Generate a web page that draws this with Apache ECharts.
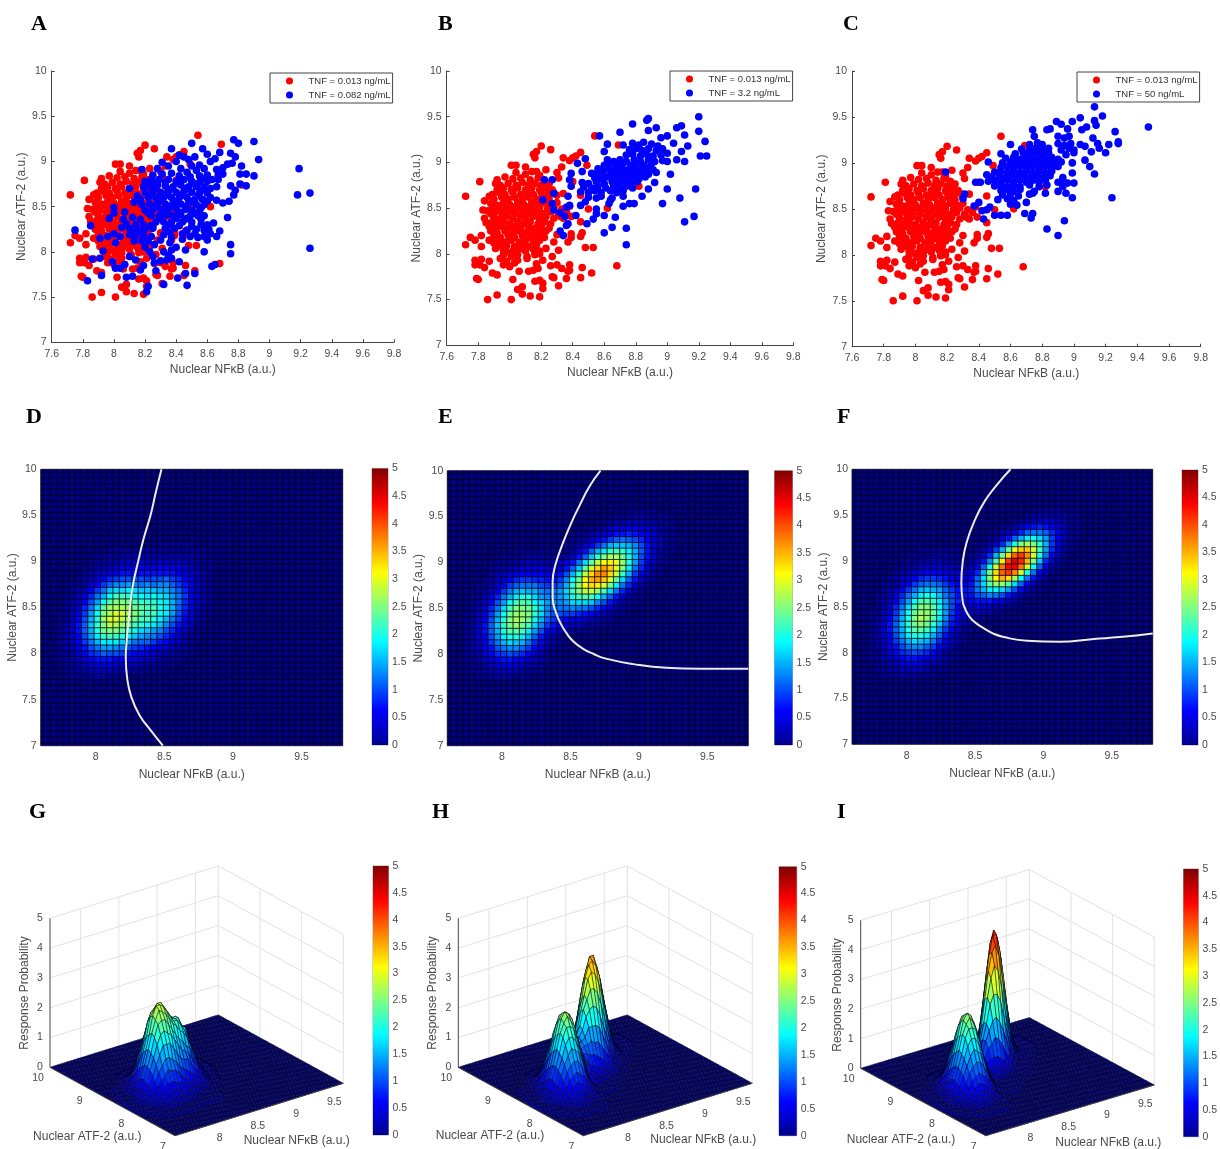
<!DOCTYPE html>
<html><head><meta charset="utf-8"><style>html,body{margin:0;background:#fff}#c{width:1220px;height:1149px}#c canvas{filter:blur(.5px)}</style>
<script src="https://cdn.jsdelivr.net/npm/echarts@6/dist/echarts.min.js"></script></head><body><div id="c"></div>
<script>
const RED_NAME='TNF = 0.013 ng/mL';
const BLUE_NAMES=['TNF = 0.082 ng/mL','TNF = 3.2 ng/mL','TNF = 50 ng/mL'];
const nfkbTicks=[8,8.5,9,9.5];
const atfTicks3D=[7,8,9,10];
const probTicks=[0,1,2,3,4,5];
const redPoints=[[7.72,8.63],[7.72,8.10],[7.75,8.18],[7.78,8.15],[7.82,8.20],[7.82,8.08],[7.78,7.93],[7.82,7.94],[7.78,7.88],[7.81,7.88],[7.84,7.85],[7.79,7.73],[7.80,7.72],[7.89,7.79],[7.92,7.77],[7.86,7.50],[7.92,7.55],[8.01,7.50],[8.05,7.61],[8.08,7.64],[8.08,7.56],[8.13,7.54],[8.19,7.53],[8.21,7.62],[8.02,7.72],[8.16,7.70],[8.19,7.71],[8.21,7.68],[8.27,7.75],[8.28,7.74],[8.31,7.65],[8.36,7.73],[8.45,7.74],[8.52,7.79],[8.46,7.85],[8.38,7.88],[8.38,7.82],[8.33,7.84],[8.26,7.87],[8.30,7.88],[8.37,7.81],[8.27,7.97],[8.31,8.04],[8.23,8.06],[8.68,7.87],[8.48,8.07],[8.53,8.07],[8.46,8.23],[8.45,8.19],[8.39,8.22],[8.37,8.13],[8.39,8.18],[8.45,8.35],[8.30,8.21],[8.28,8.13],[7.87,7.92],[7.94,7.95],[7.98,7.92],[8.0,7.86],[7.96,7.88],[8.05,7.93],[8.11,7.95],[8.06,7.81],[8.12,7.81],[8.15,7.82],[8.18,7.84],[8.17,7.89],[8.21,7.93],[8.16,8.02],[8.19,8.0],[7.98,8.02],[8.03,7.90],[7.81,8.79],[7.92,8.81],[7.91,8.77],[7.97,8.84],[8.01,8.97],[8.04,8.97],[8.10,8.95],[8.16,9.05],[8.15,9.09],[8.17,9.12],[8.20,9.18],[8.26,9.14],[8.17,8.90],[8.23,8.92],[8.30,8.89],[8.34,9.05],[8.38,9.02],[8.40,9.05],[8.42,9.07],[8.45,9.11],[8.33,8.95],[8.31,8.83],[8.49,8.97],[8.54,9.29],[8.69,9.19],[8.82,8.74],[8.50,8.49],[8.62,8.50],[8.34,8.66],[8.30,8.64],[8.45,8.64],[8.40,8.79],[8.38,8.52],[8.39,8.41],[8.34,8.39],[7.84,8.58],[7.87,8.63],[7.83,8.48],[7.86,8.47],[7.84,8.39],[7.85,8.34],[7.87,8.30],[7.88,8.25],[7.90,8.20],[7.87,8.15],[7.90,8.12],[7.91,8.06],[7.94,8.09],[7.96,8.04],
[8.04,8.89],[8.10,8.87],[8.14,8.90],[8.19,8.86],[8.02,8.82],[8.07,8.83],[8.13,8.81],[8.18,8.83],[8.22,8.80],[7.94,8.75],[7.99,8.77],[8.04,8.75],[8.08,8.78],[8.12,8.75],[8.16,8.77],[8.20,8.75],[8.25,8.77],[7.92,8.70],[7.96,8.72],[8.01,8.70],[8.05,8.72],[8.10,8.70],[8.14,8.72],[8.19,8.70],[8.23,8.72],[8.27,8.70],[7.89,8.65],[7.93,8.67],[7.97,8.65],[8.02,8.67],[8.07,8.65],[8.11,8.67],[8.15,8.65],[8.20,8.67],[8.24,8.65],[8.28,8.67],[7.90,8.60],[7.95,8.62],[7.99,8.60],[8.03,8.62],[8.08,8.60],[8.12,8.62],[8.17,8.60],[8.21,8.62],[8.25,8.60],[7.88,8.55],[7.92,8.53],[7.96,8.56],[8.0,8.54],[8.05,8.56],[8.09,8.54],[8.14,8.56],[8.18,8.54],[8.22,8.56],[8.26,8.54],[8.30,8.56],[7.89,8.50],[7.93,8.51],[7.97,8.49],[8.02,8.51],[8.06,8.49],[8.11,8.51],[8.15,8.49],[8.19,8.51],[8.24,8.49],[8.28,8.51],[8.33,8.49],[7.88,8.44],[7.91,8.46],[7.95,8.44],[7.99,8.46],[8.03,8.44],[8.08,8.46],[8.12,8.44],[8.17,8.46],[8.21,8.44],[8.26,8.46],[8.31,8.44],[8.36,8.46],[7.90,8.40],[7.94,8.38],[7.98,8.41],[8.02,8.39],[8.07,8.41],[8.10,8.39],[8.15,8.41],[8.19,8.39],[8.23,8.41],[8.28,8.39],[8.32,8.41],[7.89,8.35],[7.92,8.33],[7.96,8.35],[8.0,8.33],[8.05,8.35],[8.09,8.33],[8.13,8.35],[8.18,8.33],[8.22,8.35],[8.26,8.33],[7.91,8.28],[7.95,8.30],[7.99,8.28],[8.03,8.30],[8.07,8.28],[8.12,8.30],[8.16,8.28],[8.2,8.30],[8.25,8.28],[7.92,8.23],[7.97,8.25],[8.02,8.23],[8.06,8.25],[8.10,8.23],[8.14,8.25],[8.19,8.23],[8.23,8.25],[7.94,8.18],[7.99,8.20],[8.03,8.18],[8.08,8.20],[8.13,8.18],[8.17,8.20],[8.22,8.18],[7.93,8.14],[7.97,8.13],[8.01,8.15],[8.06,8.13],[8.10,8.15],[8.15,8.13],[8.19,8.15],[7.98,8.09],[8.03,8.08],[8.08,8.10],[8.12,8.08],[8.17,8.10],[8.02,8.03],[8.06,8.05],[8.10,8.03],[8.15,8.05],[8.19,8.03],[7.96,7.99],[8.01,7.97],[8.05,7.99],[8.11,7.97],[8.16,7.99]];
const blueA=[[7.75,8.24],[7.85,8.29],[7.83,7.68],[7.86,7.92],[7.92,7.74],[7.91,8.15],[7.93,8.01],[7.91,7.93],[7.99,7.89],[8.01,7.82],[8.04,7.82],[8.07,7.86],[8.08,7.72],[8.12,7.73],[8.10,7.95],[8.14,7.91],[8.19,7.85],[8.17,7.80],[8.22,7.62],[8.21,7.56],[8.27,7.79],[8.32,7.64],[8.26,7.88],[8.34,7.91],[8.41,7.71],[8.47,7.63],[8.46,7.76],[8.52,7.76],[8.42,7.89],[8.37,8.02],[8.46,8.02],[8.58,8.0],[8.63,7.84],[8.65,7.86],[8.75,8.08],[8.75,7.98],[8.66,8.17],[8.68,8.23],[8.60,8.13],[8.73,8.38],[9.19,8.92],[9.18,8.63],[9.26,8.65],[9.26,8.04],[8.93,9.02],[8.90,9.22],[8.77,9.24],[8.80,9.20],[8.50,9.20],[8.37,9.14],[8.57,9.14],[8.75,9.09],[8.78,9.05],[8.68,9.10],[8.90,8.84],[8.85,8.86],[8.82,8.95],[8.81,8.86],[8.85,8.73],[8.81,8.75],[8.75,8.73],[8.78,8.68],[8.77,8.63],[8.74,8.56],[8.70,8.54],[8.66,8.57],[8.64,8.32],[8.61,8.25],[8.10,8.70],[8.18,8.91],[8.0,8.49],[8.0,8.43],[8.07,8.44],[7.97,8.37],
[8.31,8.99],[8.42,9.07],[8.45,9.05],[8.48,9.02],[8.40,9.0],[8.52,9.05],[8.60,9.08],[8.62,9.0],[8.65,9.03],[8.50,8.95],[8.55,8.96],[8.58,8.92],[8.66,8.91],[8.70,8.93],[8.73,8.97],[8.76,8.98],[8.28,8.92],[8.35,8.95],[8.43,8.92],[8.47,8.88],[8.53,8.9],[8.60,8.85],[8.67,8.85],[8.70,8.86],[8.25,8.85],[8.31,8.86],[8.37,8.87],[8.42,8.84],[8.49,8.83],[8.55,8.84],[8.63,8.8],[8.67,8.8],[8.2,8.78],[8.24,8.8],[8.29,8.8],[8.35,8.8],[8.4,8.78],[8.45,8.8],[8.5,8.78],[8.55,8.77],[8.6,8.78],[8.66,8.72],[8.19,8.72],[8.23,8.73],[8.28,8.74],[8.33,8.73],[8.38,8.72],[8.43,8.74],[8.48,8.72],[8.53,8.72],[8.58,8.72],[8.62,8.7],[8.15,8.62],[8.2,8.66],[8.25,8.67],[8.3,8.66],[8.35,8.67],[8.4,8.66],[8.45,8.67],[8.5,8.66],[8.55,8.65],[8.6,8.65],[8.13,8.55],[8.17,8.58],[8.22,8.6],[8.27,8.6],[8.32,8.6],[8.37,8.6],[8.42,8.6],[8.47,8.6],[8.52,8.58],[8.57,8.58],[8.62,8.6],[8.18,8.52],[8.23,8.53],[8.28,8.54],[8.33,8.53],[8.38,8.54],[8.43,8.53],[8.48,8.54],[8.53,8.52],[8.58,8.52],[8.2,8.46],[8.25,8.47],[8.3,8.47],[8.35,8.47],[8.4,8.48],[8.46,8.47],[8.5,8.46],[8.55,8.45],[8.24,8.4],[8.29,8.4],[8.34,8.41],[8.38,8.4],[8.43,8.41],[8.49,8.4],[8.54,8.4],[8.58,8.4],[8.12,8.38],[8.17,8.36],[8.06,8.36],[8.27,8.33],[8.32,8.33],[8.37,8.33],[8.44,8.33],[8.5,8.33],[8.56,8.3],[8.6,8.3],[8.08,8.31],[8.14,8.3],[8.19,8.3],[8.05,8.27],[8.1,8.26],[8.15,8.24],[8.2,8.25],[8.25,8.26],[8.33,8.26],[8.39,8.26],[8.47,8.24],[8.53,8.25],[8.58,8.24],[8.0,8.2],[7.96,8.17],[8.04,8.17],[8.1,8.19],[8.14,8.18],[8.19,8.18],[8.24,8.17],[8.32,8.19],[8.37,8.16],[8.44,8.14],[8.49,8.17],[8.54,8.16],[8.58,8.17],[8.62,8.2],[8.01,8.1],[8.13,8.12],[8.18,8.12],[8.22,8.12],[8.26,8.08],[8.3,8.13],[8.36,8.1],[8.4,8.05],[8.2,8.05],[8.23,8.0],[8.32,8.0],[8.35,7.96],[8.25,7.95],[8.3,7.9],[8.37,7.93],
[8.27,8.77],[8.33,8.77],[8.42,8.76],[8.52,8.75],[8.57,8.81],[8.26,8.7],[8.36,8.69],[8.46,8.7],[8.56,8.68],[8.24,8.63],[8.34,8.63],[8.44,8.63],[8.54,8.62],[8.3,8.57],[8.4,8.56],[8.5,8.56],[8.6,8.56],[8.26,8.5],[8.36,8.5],[8.46,8.5],[8.56,8.49],[8.22,8.43],[8.32,8.44],[8.42,8.44],[8.52,8.43],[8.3,8.37],[8.4,8.37],[8.47,8.37],[8.56,8.36],[8.24,8.29],[8.35,8.3],[8.42,8.29],[8.5,8.28],[8.12,8.22],[8.18,8.22],[8.36,8.22],[8.44,8.2],[8.52,8.2]];
const blueB=[[8.22,8.81],[8.27,8.81],[8.28,8.66],[8.21,8.59],[8.27,8.55],[8.28,8.48],[8.32,8.45],[8.35,8.41],[8.37,8.33],[8.36,8.31],[8.32,8.25],[8.34,8.20],[8.42,8.42],[8.36,8.51],[8.38,8.53],[8.37,8.63],[8.38,8.81],[8.39,8.88],[8.39,8.74],[8.43,8.99],[8.48,9.04],[8.46,8.90],[8.57,9.29],[8.60,9.12],[8.62,9.20],[8.70,9.33],[8.72,9.19],[8.78,9.42],[8.87,9.46],[8.88,9.48],[8.88,9.35],[8.93,9.38],[8.96,9.27],[9.06,9.38],[9.09,9.40],[9.20,9.50],[9.11,9.30],[9.20,9.34],[9.24,9.23],[9.13,9.18],[9.09,9.12],[9.21,9.07],[9.25,9.07],[9.11,9.01],[9.06,9.03],[9.04,9.21],[9.0,9.29],[9.18,8.71],[9.17,8.41],[9.11,8.35],[9.08,8.61],[9.0,8.71],[8.97,8.55],[9.02,8.87],[8.93,8.89],[8.92,8.78],[8.88,8.71],[8.84,8.63],[8.79,8.55],[8.76,8.55],[8.72,8.52],[8.67,8.40],[8.65,8.29],[8.60,8.23],[8.74,8.28],[8.74,8.10],[8.49,8.33],[8.53,8.38],[8.55,8.44],[8.60,8.42],[8.45,8.53],[8.48,8.57],[8.55,8.49],[8.63,8.55],[8.64,8.59],[9.0,9.01],
[8.78,9.21],[8.82,9.19],[8.85,9.22],[8.9,9.2],[8.94,9.18],[8.76,9.14],[8.8,9.15],[8.84,9.13],[8.88,9.15],[8.93,9.13],[8.97,9.15],[8.74,9.08],[8.78,9.09],[8.83,9.07],[8.87,9.09],[8.91,9.07],[8.96,9.08],[9.0,9.1],[8.62,9.03],[8.66,9.01],[8.7,9.03],[8.74,9.01],[8.79,9.03],[8.83,9.01],[8.88,9.03],[8.92,9.01],[8.97,9.02],[8.6,8.97],[8.64,8.99],[8.68,8.97],[8.72,8.99],[8.77,8.97],[8.81,8.99],[8.85,8.97],[8.9,8.99],[8.56,8.93],[8.6,8.92],[8.63,8.94],[8.67,8.92],[8.71,8.94],[8.75,8.92],[8.79,8.94],[8.83,8.92],[8.87,8.94],[8.91,8.92],[8.52,8.88],[8.55,8.87],[8.59,8.89],[8.64,8.87],[8.68,8.89],[8.72,8.87],[8.76,8.89],[8.8,8.87],[8.84,8.89],[8.88,8.87],[8.54,8.83],[8.58,8.82],[8.62,8.84],[8.66,8.82],[8.7,8.84],[8.74,8.82],[8.78,8.84],[8.82,8.82],[8.86,8.84],[8.46,8.78],[8.5,8.77],[8.55,8.79],[8.6,8.77],[8.65,8.79],[8.69,8.77],[8.73,8.79],[8.77,8.77],[8.81,8.79],[8.47,8.73],[8.52,8.72],[8.56,8.74],[8.61,8.72],[8.66,8.74],[8.7,8.72],[8.74,8.74],[8.78,8.72],[8.45,8.68],[8.5,8.67],[8.54,8.69],[8.58,8.67],[8.64,8.69],[8.68,8.67],[8.72,8.69],[8.5,8.62],[8.55,8.61],[8.58,8.63],[8.65,8.61],[8.72,8.63]];
const blueC=[[8.19,8.90],[8.31,8.66],[8.30,8.61],[8.37,8.53],[8.40,8.57],[8.38,8.79],[8.41,8.79],[8.46,9.01],[8.45,8.87],[8.43,8.39],[8.42,8.48],[8.50,8.43],[8.54,8.43],[8.58,8.43],[8.45,8.49],[8.47,8.52],[8.60,9.20],[8.54,9.10],[8.74,9.36],[8.75,9.29],[8.83,9.36],[8.85,9.37],[8.89,9.45],[8.92,9.42],[8.96,9.37],[8.99,9.45],[9.04,9.49],[9.13,9.61],[9.18,9.51],[9.13,9.46],[9.14,9.41],[9.08,9.39],[9.05,9.36],[9.26,9.34],[9.28,9.23],[9.28,9.21],[9.22,9.20],[9.20,9.11],[9.16,9.16],[9.12,9.27],[9.15,9.21],[9.11,9.12],[9.07,9.03],[9.10,8.96],[9.13,8.88],[9.04,9.20],[9.07,9.18],[9.47,9.39],[9.24,8.62],[8.99,8.62],[8.95,8.67],[8.90,8.69],[9.0,8.78],[8.96,8.78],[8.94,8.37],[8.90,8.21],[8.83,8.28],[8.74,8.45],[8.73,8.40],[8.69,8.45],[8.70,8.57],[8.74,8.67],[8.64,8.54],[8.60,8.55],[8.82,8.67],[8.93,8.81],[8.99,9.0],[8.99,8.89],
[8.9,9.29],[8.94,9.27],[8.97,9.29],[8.72,9.2],[8.77,9.22],[8.8,9.2],[8.9,9.21],[8.94,9.19],[8.98,9.21],[8.67,9.15],[8.72,9.14],[8.76,9.16],[8.8,9.14],[8.84,9.16],[8.92,9.14],[8.97,9.16],[9.0,9.14],[8.63,9.1],[8.68,9.11],[8.72,9.09],[8.76,9.11],[8.8,9.09],[8.84,9.11],[8.95,9.09],[9.0,9.11],[8.57,9.05],[8.62,9.06],[8.66,9.04],[8.7,9.06],[8.74,9.04],[8.78,9.06],[8.82,9.04],[8.86,9.06],[8.9,9.04],[8.55,9.0],[8.6,9.01],[8.64,8.99],[8.68,9.01],[8.72,8.99],[8.76,9.01],[8.8,8.99],[8.84,9.01],[8.88,8.99],[8.92,9.01],[8.54,8.95],[8.58,8.96],[8.62,8.94],[8.66,8.96],[8.7,8.94],[8.74,8.96],[8.78,8.94],[8.82,8.96],[8.86,8.94],[8.9,8.96],[8.5,8.9],[8.54,8.91],[8.58,8.89],[8.62,8.91],[8.66,8.89],[8.7,8.91],[8.74,8.89],[8.78,8.91],[8.82,8.89],[8.86,8.91],[8.48,8.85],[8.53,8.86],[8.57,8.84],[8.61,8.86],[8.65,8.84],[8.69,8.86],[8.73,8.84],[8.77,8.86],[8.81,8.84],[8.85,8.86],[8.93,8.84],[8.46,8.8],[8.5,8.81],[8.54,8.79],[8.58,8.81],[8.62,8.79],[8.66,8.81],[8.7,8.79],[8.74,8.81],[8.78,8.79],[8.82,8.81],[8.9,8.79],[8.5,8.75],[8.54,8.76],[8.58,8.74],[8.62,8.76],[8.66,8.74],[8.72,8.76],[8.78,8.74],[8.83,8.76],[8.93,8.74],[8.54,8.7],[8.58,8.71],[8.62,8.69],[8.66,8.71],[8.75,8.69],[8.55,8.65],[8.6,8.66],[8.65,8.64],[8.72,8.66],[8.52,8.6],[8.58,8.61],[8.62,8.59]];
// Estimated response-probability cells, in tenths. First number of each row = first column of that row; rows run upward from the given first row.
const lowDoseFirstRow=12;
const lowDoseRows=[
[3,0,0,1,1,1,2,2,2,1,1,1,0,0,0,0,0,0,0],[3,0,1,1,2,2,3,3,3,3,2,1,1,1,0,0,0,0,0],[3,0,1,1,2,3,4,5,5,4,3,2,2,1,0,0,0,0,0],[3,1,1,2,3,4,6,7,7,6,5,4,3,2,1,0,0,0,0],[3,1,1,2,4,6,8,9,10,9,8,6,4,2,1,1,0,0,0],[3,1,2,3,5,7,10,12,13,13,11,9,6,4,2,1,0,0,0],[3,1,2,3,6,9,12,15,17,16,15,12,8,5,3,2,1,0,0],[3,1,2,4,6,10,14,18,20,20,18,15,11,7,4,2,1,0,0],[3,1,2,4,7,11,15,20,23,23,22,18,13,9,5,3,1,1,0],[3,1,2,4,7,11,16,21,24,26,24,21,16,11,7,4,2,1,0],[3,1,1,3,6,10,15,20,25,27,26,23,18,13,8,5,2,1,0],[3,1,1,3,5,9,14,19,24,26,26,24,19,14,9,5,3,1,1],[3,0,1,2,4,8,12,17,22,25,25,23,19,14,9,5,3,1,1],[3,0,1,2,3,6,10,14,19,22,23,21,18,14,9,6,3,1,1],[3,0,1,1,3,5,8,12,15,18,20,19,16,12,9,5,3,1,1],[3,0,0,1,2,3,6,9,12,15,16,15,14,11,8,5,3,1,1],[3,0,0,1,1,2,4,6,9,11,12,12,11,9,6,4,2,1,1],[3,0,0,0,1,2,3,4,6,8,9,9,8,7,5,3,2,1,1],[3,0,0,0,0,1,2,3,4,5,6,6,6,5,4,3,2,1,0],[3,0,0,0,0,1,1,2,2,3,4,4,4,4,3,2,1,1,0],[3,0,0,0,0,0,1,1,1,2,2,3,3,2,2,1,1,1,0],[3,0,0,0,0,0,0,1,1,1,1,2,2,2,1,1,1,0,0],[3,0,0,0,0,0,0,0,0,1,1,1,1,1,1,1,0,0,0]];
const highDFirstRow=13;
const highDRows=[
[9,0,0,0,1,1,1,1,1,1,1,1,0],[9,0,0,1,1,1,2,2,2,2,1,1,1,1],[9,0,0,1,1,2,2,3,3,3,3,2,1,1,1],[9,0,1,1,2,3,3,4,4,4,4,3,2,2,1,1],[9,0,1,1,2,3,4,5,6,6,6,5,4,3,2,1,1],[9,0,1,2,3,4,6,7,8,9,8,7,6,4,3,2,1],[9,0,1,2,3,5,7,9,10,11,11,10,8,6,4,2,1,1],[9,0,1,2,3,5,8,10,12,13,13,12,10,8,5,3,2,1],[9,0,1,2,3,5,8,11,14,15,16,15,13,10,7,5,3,1,1],[9,0,1,2,3,5,8,11,14,17,18,17,15,12,9,6,4,2,1],[9,0,1,1,3,5,8,11,14,17,19,18,17,14,10,7,4,2,1,1],[9,0,1,1,2,4,7,10,14,17,19,19,17,15,11,8,5,3,1,1],[9,0,0,1,2,4,6,9,12,15,18,18,17,15,12,8,5,3,2,1],[9,0,0,1,2,3,5,7,10,13,16,17,16,14,12,9,6,4,2,1],[9,0,0,1,1,2,4,6,8,11,13,14,14,13,11,8,5,3,2,1],[9,0,0,0,1,1,3,4,6,9,10,12,12,11,9,7,5,3,2,1],[9,0,0,0,0,1,2,3,5,6,8,9,10,9,8,6,5,3,2,1],[9,0,0,0,0,1,1,2,3,4,5,6,7,7,6,5,4,3,2,1],[9,0,0,0,0,0,1,1,2,3,4,5,5,5,5,4,3,2,1,1],[9,0,0,0,0,0,0,1,1,2,2,3,3,3,3,3,2,1,1,1],[9,0,0,0,0,0,0,0,1,1,1,2,2,2,2,2,2,1,1],[9,0,0,0,0,0,0,0,0,1,1,1,1,1,1,1,1,1,1],[9,0,0,0,0,0,0,0,0,0,0,1,1,1,1,1,1]];
const highEFirstRow=20;
const highERows=[
[14,1,1,1,2,2,2,1,1,1,1],[13,1,1,2,2,3,3,3,3,3,2,1,1,1],[13,1,1,2,3,4,5,5,5,5,4,3,2,1,1],[13,1,2,3,4,5,7,8,8,8,7,6,4,3,2,1,1],[13,1,2,3,4,6,9,11,12,12,12,10,8,6,4,2,1,1],[13,1,1,3,5,7,10,13,16,17,17,16,13,10,7,4,2,1,1],[13,1,1,2,4,7,11,15,19,22,23,22,19,15,11,7,4,2,1,1],[14,1,2,4,7,11,16,21,25,28,28,26,22,17,12,8,4,2,1],[14,1,1,3,5,9,14,20,26,31,33,32,29,24,18,12,8,4,2,1],[15,1,2,4,7,12,18,24,31,35,36,34,30,23,17,11,7,4,2,1],[15,1,1,3,5,9,15,21,28,33,37,37,33,28,21,15,9,5,3,1,1],[16,1,2,3,6,11,16,23,29,33,36,34,30,25,18,12,8,4,2,1],[17,1,2,4,7,12,17,23,28,31,32,30,26,20,14,9,5,3,1,1],[18,1,2,4,7,11,16,21,25,27,27,24,20,15,10,7,4,2,1],[18,1,1,2,4,7,11,15,18,21,22,21,18,15,11,7,4,2,1,1],[19,1,1,2,4,6,9,12,15,16,16,15,13,10,7,4,3,1,1],[20,1,1,2,3,5,7,9,11,12,11,10,8,6,4,3,1,1],[21,1,1,2,3,4,5,7,7,8,7,6,5,4,2,1,1],[23,1,1,2,3,4,4,5,5,4,4,3,2,1,1],[25,1,1,2,2,3,3,3,2,2,1,1,1],[27,1,1,1,2,2,1,1,1,1],[29,1,1,1,1,1]];
const highFFirstRow=22;
const highFRows=[
[18,1,1,1,1],[17,1,2,2,2,2,2,1,1],[16,1,1,2,3,4,4,4,3,2,1,1],[16,1,2,3,5,6,7,7,6,5,3,2,1],[16,1,2,4,6,9,11,13,12,10,7,5,2,1,1],[16,1,2,4,7,11,15,18,19,17,14,10,6,3,1,1],[16,1,1,3,6,11,17,23,26,26,23,17,11,6,3,1,1],[17,1,2,5,10,17,25,31,35,33,27,19,12,7,3,1],[17,1,2,4,8,15,24,33,39,41,37,29,20,12,6,3,1],[18,1,2,5,11,19,29,38,44,44,38,29,19,11,5,2,1],[19,1,3,7,13,22,32,41,45,42,35,25,16,8,4,2,1],[19,1,2,4,8,15,24,33,39,41,37,29,20,12,6,3,1],[20,1,2,4,9,15,23,30,34,34,29,22,14,8,4,2,1],[21,1,2,4,8,14,20,25,27,25,21,15,9,5,2,1],[22,1,2,4,7,11,15,18,19,17,14,9,6,3,1,1],[23,1,2,3,5,8,11,12,12,11,8,5,3,1,1],[24,1,1,2,4,6,7,8,7,6,4,3,1,1],[26,1,1,2,3,4,4,4,3,2,1,1],[28,1,2,2,2,2,2,2,1,1],[30,1,1,1,1]];
// Faint skirts round each peak on the 3D surfaces: [first column, number of cells] per row, each cell one tenth.
const lowSkirtFirstRow=9;
const lowSkirtSpans=[[6,8],[5,10],[4,12],[3,13],[2,15],[2,16],[2,16],[1,18],[1,19],[1,19],[1,20],[1,20],[1,21],[1,21],[2,20],[2,21],[2,21],[3,20],[3,20],[4,19],[4,19],[5,18],[6,17],[7,15],[8,13],[9,11],[11,7]];
const highSkirtFirstRow=16;
const highSkirtSpans=[[14,8],[13,10],[13,11],[13,12],[12,14],[12,15],[12,16],[12,18],[12,19],[12,20],[13,20],[13,21],[13,22],[14,22],[14,23],[15,23],[15,24],[16,23],[17,23],[18,22],[19,21],[20,20],[21,19],[22,18],[24,16],[25,14],[27,11],[29,7]];
const highDSkirtFirstRow=10;
const highDSkirtSpans=[[13,8],[12,10],[11,12],[10,13],[9,15],[9,16],[9,16],[8,18],[8,19],[8,19],[8,20],[8,20],[8,21],[8,21],[9,20],[9,21],[9,21],[10,20],[10,20],[11,19],[11,19],[12,18],[13,17],[14,15],[15,13],[16,11],[18,7]];
const boundaryD=[[8.48,10],[8.44,9.76],[8.40,9.5],[8.35,9.25],[8.31,9.0],[8.27,8.73],[8.25,8.49],[8.23,8.2],[8.22,7.95],[8.23,7.73],[8.26,7.53],[8.32,7.33],[8.40,7.17],[8.49,7.0]];
const boundaryE=[[8.72,10],[8.64,9.83],[8.57,9.63],[8.50,9.41],[8.44,9.19],[8.39,8.97],[8.37,8.79],[8.37,8.61],[8.40,8.43],[8.43,8.33],[8.47,8.23],[8.52,8.14],[8.59,8.06],[8.67,8.0],[8.76,7.95],[8.96,7.89],[9.20,7.85],[9.45,7.84],[9.8,7.84]];
const boundaryF=[[8.76,10],[8.66,9.83],[8.57,9.65],[8.50,9.45],[8.44,9.21],[8.41,8.99],[8.40,8.76],[8.41,8.56],[8.43,8.47],[8.46,8.39],[8.50,8.33],[8.56,8.27],[8.63,8.21],[8.71,8.17],[8.88,8.13],[9.12,8.12],[9.37,8.15],[9.56,8.17],[9.8,8.21]];

// ---------- layout (pixels) ----------
const INK='#454545', NF='Nuclear NFκB (a.u.)', ATF='Nuclear ATF-2 (a.u.)', FONT='"Liberation Sans",Arial,sans-serif';
const scatterBoxes=[[51.7,71,342.3,271.3],[446.7,71,346.6,274.3],[852,71,348.7,275.7]];
const legendPos=[[270,73],[670,71],[1077,72]];
const heatBoxes=[[40.7,469.3,302,276.4],[447.3,470.7,301,275],[852,469.3,300.7,275]];
const heatNameGaps=[17,20,20];
const barBoxes=[[372,468.5,16,276.5],[774.5,470.7,18,274.3],[1182,470,16,275],[373,866,15.5,269],[779,866.7,17.7,269],[1183.5,869,15,267.7]];
const floors=[{l:[50,1067.3],b:[175,1135.7],r:[343.3,1083.3],zs:29.8},{l:[458.3,1067.3],b:[583.3,1135.7],r:[752.3,1083.3],zs:29.8},{l:[860.7,1068.3],b:[985.7,1135.7],r:[1154.3,1085],zs:29.6}];
const letters=[['A',31,24],['B',438,24],['C',843,24],['D',26,417],['E',438,417],['F',837,417],['G',29,812],['H',432,812],['I',837,812]];
const names3D=[[87.3,1137,296.7,1140.7,25,993],[490,1135.3,703.3,1139.3,432.7,993],[901,1140,1108.3,1142.3,837.3,995]];

// ---------- surface tables ----------
const N=48, X0=7.6, X1=9.8, Y0=7, Y1=10;
const meshX=[],meshY=[];
for(let k=0;k<=N;k++){meshX.push(X0+(X1-X0)*k/N);meshY.push(Y0+(Y1-Y0)*k/N);}
function surface(tables,skirts){
  const z=[];for(let j=0;j<=N;j++)z.push(new Array(N+1).fill(0));
  tables.forEach(([first,rows])=>rows.forEach((row,r)=>{for(let c=1;c<row.length;c++)z[first+r][row[0]+c-1]+=row[c]/10;}));
  skirts.forEach(([first,spans])=>spans.forEach(([s,n],r)=>{for(let c=0;c<n;c++){const v=z[first+r];if(v[s+c]<0.1)v[s+c]=0.1;}}));
  return z;
}
const low=[lowDoseFirstRow,lowDoseRows],lowSkirt=[lowSkirtFirstRow,lowSkirtSpans],highSkirt=[highSkirtFirstRow,highSkirtSpans];
const panelTables=[[low,[highDFirstRow,highDRows]],[low,[highEFirstRow,highERows]],[low,[highFFirstRow,highFRows]]];
const panelSkirts=[[lowSkirt,[highDSkirtFirstRow,highDSkirtSpans]],[lowSkirt,highSkirt],[lowSkirt,highSkirt]];
const heatCells=panelTables.map(t=>surface(t,[]));
const surfaces=panelTables.map((t,p)=>surface(t,panelSkirts[p]));
const clamp=v=>Math.max(0,Math.min(1,v));
function jet(v){const t=clamp(v/5),c=k=>Math.round(255*clamp(1.5-Math.abs(4*t-k)));return `rgb(${c(3)},${c(2)},${c(1)})`;}

const grids=[],xAxes=[],yAxes=[],series=[],legends=[],graphics=[];
function addGrid(box,x,y,extra){grids.push(Object.assign({left:box[0],top:box[1],width:box[2],height:box[3],containLabel:false},extra||{}));const g=grids.length-1;xAxes.push(Object.assign({gridIndex:g},x));yAxes.push(Object.assign({gridIndex:g},y));return g;}
const lbl=(m)=>({color:'#4a4a4a',fontSize:10.5,fontFamily:FONT,margin:m});
const nameSt={color:'#4a4a4a',fontSize:12,fontFamily:FONT};
// scatter panels
scatterBoxes.forEach((b,p)=>{
  const g=addGrid(b,
   {type:'value',min:7.6,max:9.8,interval:0.2,name:NF,nameLocation:'middle',nameGap:21,nameTextStyle:nameSt,splitLine:{show:false},axisLine:{onZero:false,lineStyle:{color:INK}},axisTick:{inside:true,length:3,lineStyle:{color:INK}},axisLabel:lbl(6)},
   {type:'value',min:7,max:10,interval:0.5,name:ATF,nameLocation:'middle',nameGap:24,nameTextStyle:nameSt,splitLine:{show:false},axisLine:{onZero:false,lineStyle:{color:INK}},axisTick:{inside:true,length:3,lineStyle:{color:INK}},axisLabel:lbl(5)});
  series.push({type:'scatter',name:RED_NAME,xAxisIndex:g,yAxisIndex:g,data:redPoints,symbolSize:7.6,itemStyle:{color:'#ff0000',opacity:1},silent:true,animation:false});
  series.push({type:'scatter',name:BLUE_NAMES[p],xAxisIndex:g,yAxisIndex:g,data:[blueA,blueB,blueC][p],symbolSize:7.6,itemStyle:{color:'#0000ff',opacity:1},silent:true,animation:false});
  legends.push({left:legendPos[p][0],top:legendPos[p][1],orient:'vertical',data:[RED_NAME,BLUE_NAMES[p]],icon:'circle',itemWidth:28,itemHeight:7,itemGap:4,padding:[3,2,3,16],borderColor:INK,borderWidth:1,backgroundColor:'#fff',selectedMode:false,textStyle:{fontSize:9.5,color:'#333',fontFamily:FONT},z:20});
});
// heatmap panels: each cell is centred on its mesh node
heatBoxes.forEach((b,p)=>{
  const g=addGrid(b,
   {type:'value',min:7.6,max:9.8,name:NF,nameLocation:'middle',nameGap:23,nameTextStyle:nameSt,splitLine:{show:false},axisLine:{onZero:false,show:false},axisTick:{show:false},axisLabel:Object.assign(lbl(6),{customValues:nfkbTicks})},
   {type:'value',min:7,max:10,interval:0.5,name:ATF,nameLocation:'middle',nameGap:heatNameGaps[p],nameTextStyle:nameSt,splitLine:{show:false},axisLine:{onZero:false,show:false},axisTick:{show:false},axisLabel:lbl(4)},
   {show:true,borderColor:'#c4c4c4',borderWidth:1,backgroundColor:'#00008f'});
  const z=heatCells[p],data=[],hx=(X1-X0)/N/2,hy=(Y1-Y0)/N/2;
  for(let j=0;j<=N;j++)for(let i=0;i<=N;i++)data.push([Math.max(X0,meshX[i]-hx),Math.min(X1,meshX[i]+hx),Math.max(Y0,meshY[j]-hy),Math.min(Y1,meshY[j]+hy),z[j][i]]);
  series.push({type:'custom',xAxisIndex:g,yAxisIndex:g,data,encode:{x:[0,1],y:[2,3]},silent:true,animation:false,progressive:0,
    renderItem:(params,api)=>{const a=api.coord([api.value(0),api.value(3)]),c=api.coord([api.value(1),api.value(2)]);
      return {type:'rect',shape:{x:a[0],y:a[1],width:c[0]-a[0],height:c[1]-a[1]},style:{fill:jet(api.value(4)),stroke:'rgba(0,0,10,0.6)',lineWidth:1}};}});
  series.push({type:'line',xAxisIndex:g,yAxisIndex:g,data:[boundaryD,boundaryE,boundaryF][p],smooth:0.5,showSymbol:false,symbol:'none',lineStyle:{color:'#ececec',width:2},silent:true,animation:false,z:5});
});
// colorbars
barBoxes.forEach(b=>{
  const g=addGrid(b,{type:'category',data:['scale'],show:false,boundaryGap:true},
   {type:'value',min:0,max:5,interval:0.5,position:'right',splitLine:{show:false},axisLine:{show:false},axisTick:{inside:true,length:2,lineStyle:{color:'#333'}},axisLabel:lbl(4)},
   {show:true,borderColor:'#aaa',borderWidth:1});
  series.push({type:'bar',xAxisIndex:g,yAxisIndex:g,data:[5],barWidth:'100%',silent:true,animation:false,itemStyle:{color:new echarts.graphic.LinearGradient(0,0,0,1,[{offset:0,color:'#800000'},{offset:0.125,color:'#ff0000'},{offset:0.375,color:'#ffff00'},{offset:0.625,color:'#00ffff'},{offset:0.875,color:'#0000ff'},{offset:1,color:'#00008f'}])}});
});
// 3D panels on one hidden page-sized stage
const stage=addGrid([0,0,1220,1149],{type:'value',min:0,max:1220,show:false},{type:'value',min:0,max:1149,inverse:true,show:false});
function proj(f,x,y,z,api){const u=(x-X0)/(X1-X0),w=(y-Y0)/(Y1-Y0);
  return api.coord([f.b[0]+u*(f.r[0]-f.b[0])+w*(f.l[0]-f.b[0]),f.b[1]+u*(f.r[1]-f.b[1])+w*(f.l[1]-f.b[1])-z*f.zs]);}
floors.forEach((f,p)=>{
  const walls=[];
  probTicks.forEach(z=>{walls.push([X0,Y1,z,X1,Y1,z]);walls.push([X1,Y1,z,X1,Y0,z]);});
  nfkbTicks.forEach(x=>walls.push([x,Y1,0,x,Y1,5]));
  atfTicks3D.forEach(y=>walls.push([X1,y,0,X1,y,5]));
  const line=(kind)=>(params,api)=>{const a=proj(f,api.value(0),api.value(1),api.value(2),api),c=proj(f,api.value(3),api.value(4),api.value(5),api);
    return {type:'line',shape:{x1:a[0],y1:a[1],x2:c[0],y2:c[1]},style:{stroke:kind,lineWidth:1}};};
  series.push({type:'custom',xAxisIndex:stage,yAxisIndex:stage,data:walls,encode:{x:0,y:1},silent:true,animation:false,renderItem:line('#e2e2e2'),z:1});
  const z=surfaces[p],quads=[];
  for(let i=N-1;i>=0;i--)for(let j=N-1;j>=0;j--)quads.push([i,j]);
  series.push({type:'custom',xAxisIndex:stage,yAxisIndex:stage,data:quads,encode:{x:0,y:1},silent:true,animation:false,progressive:0,z:2,clip:false,
    renderItem:(params,api)=>{const i=api.value(0),j=api.value(1);
      const pts=[[i,j],[i+1,j],[i+1,j+1],[i,j+1]].map(([a,b])=>proj(f,meshX[a],meshY[b],z[b][a],api));
      const v=(z[j][i]+z[j][i+1]+z[j+1][i]+z[j+1][i+1])/4;
      return {type:'polygon',shape:{points:pts},style:{fill:jet(v),stroke:'rgba(0,0,16,0.75)',lineWidth:0.6}};}});
  const axes=[[X0,Y1,0,X0,Y1,5],[X0,Y1,0,X0,Y0,0],[X0,Y0,0,X1,Y0,0]];
  series.push({type:'custom',xAxisIndex:stage,yAxisIndex:stage,data:axes,encode:{x:0,y:1},silent:true,animation:false,renderItem:line(INK),z:3,clip:false});
  const texts=[];
  probTicks.forEach(t=>texts.push([X0,Y1,t,-10,0,String(t)]));
  atfTicks3D.forEach(t=>texts.push([X0,t,0,-12,11,String(t)]));
  nfkbTicks.forEach(t=>texts.push([t,Y0,0,14,12,String(t)]));
  series.push({type:'custom',xAxisIndex:stage,yAxisIndex:stage,data:texts,encode:{x:0,y:1},silent:true,animation:false,z:4,clip:false,
    renderItem:(params,api)=>{const t=texts[params.dataIndex],a=proj(f,t[0],t[1],t[2],api);
      return {type:'text',x:a[0]+t[3],y:a[1]+t[4],style:{text:t[5],fill:'#4a4a4a',font:'10.5px '+FONT,textAlign:'center',textVerticalAlign:'middle'}};}});
  const n=names3D[p],tx=(s,x,y,rot)=>({type:'text',x,y,rotation:rot||0,silent:true,style:{text:s,fill:'#4a4a4a',font:'12px '+FONT,textAlign:'center',textVerticalAlign:'middle'}});
  graphics.push(tx(ATF,n[0],n[1]),tx(NF,n[2],n[3]),tx('Response Probability',n[4],n[5],Math.PI/2));
});
letters.forEach(l=>graphics.push({type:'text',x:l[1],y:l[2],silent:true,style:{text:l[0],fill:'#000',font:'bold 22px "Liberation Serif","Times New Roman",serif',textAlign:'left',textVerticalAlign:'middle'}}));

const chart=echarts.init(document.getElementById('c'),null,{width:1220,height:1149});
chart.setOption({animation:false,backgroundColor:'#fff',grid:grids,xAxis:xAxes,yAxis:yAxes,legend:legends,series,graphic:{elements:graphics},tooltip:{show:false}});
</script></body></html>
